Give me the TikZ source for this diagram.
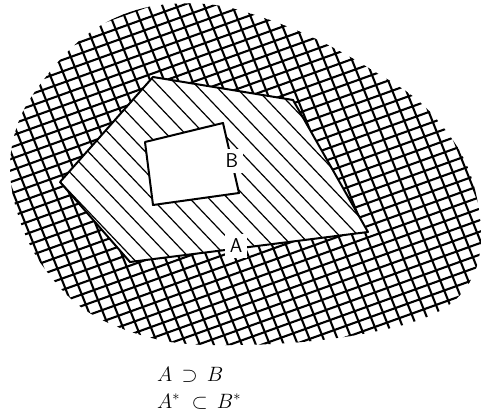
\documentclass[tikz,border=0pt]{standalone}
\usepackage{amsmath,amssymb}
\usetikzlibrary{positioning}
\begin{document}
\begin{tikzpicture}[x=1pt,y=-1pt]
\tikzset{
  crossline/.style={line width=2.1pt,line cap=round},
  singleline/.style={line width=1.2pt},
  outline/.style={line width=2pt,line join=round},
  setlabel/.style={fill=white,inner sep=5pt,font=\fontsize{20}{24}\selectfont\sffamily},
  relation/.style={anchor=base west,inner sep=0pt,font=\fontsize{20}{24}\selectfont}
}
\useasboundingbox (0,0) rectangle (482,412);
\coordinate (a1) at (153,77);
\coordinate (a2) at (293,100);
\coordinate (a3) at (368,232);
\coordinate (a4) at (130,262);
\coordinate (a5) at (60,182);
\coordinate (b1) at (145,142);
\coordinate (b2) at (223,123);
\coordinate (b3) at (239,193);
\coordinate (b4) at (153,205);
\begin{scope}
\clip plot[smooth cycle,tension=0.6] coordinates {(160,5) (215,5) (270,20) (322,42) (372,70) (422,104) (462,155) (479,210) (478,262) (455,300) (410,323) (330,339) (240,345) (160,340) (88,312) (42,265) (18,215) (10,165) (20,118) (45,78) (78,42) (115,18)};
\foreach \c in {40,51.5,...,530} \draw[crossline] (-10,\c) -- ++(500,-180);
\foreach \c in {-80,-66,...,430} \draw[crossline] (\c,-5) -- ++(143,357.5);
\end{scope}
\fill[white] (a1) -- (a2) -- (a3) -- (a4) -- (a5) -- cycle;
\begin{scope}
\clip (a1) -- (a2) -- (a3) -- (a4) -- (a5) -- cycle;
\foreach \c in {-170,-151,...,370} \draw[singleline] (\c,60) -- ++(220,231);
\end{scope}
\fill[white] (b1) -- (b2) -- (b3) -- (b4) -- cycle;
\draw[outline] (a1) -- (a2) -- (a3) -- (a4) -- (a5) -- cycle;
\draw[outline] (b1) -- (b2) -- (b3) -- (b4) -- cycle;
\node[setlabel] (n_A) at (236,246) {A};
\node[setlabel] (n_B) at (232,161) {B};
\node[relation] (n_sup) at (157,381) {$A \,\supset\, B$};
\node[relation] (n_sub) at (157,408) {$A^* \;\subset\, B^*$};
\end{tikzpicture}
\end{document}
